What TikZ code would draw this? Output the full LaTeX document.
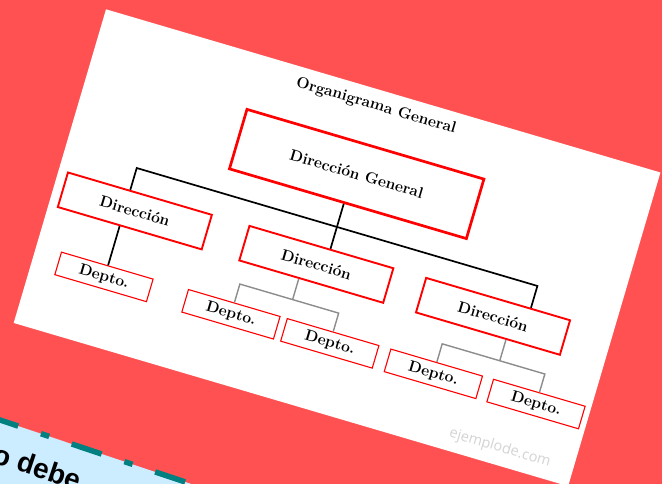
\documentclass[tikz,border=0pt]{standalone}
\usepackage{fontspec}
\usepackage{tikz}
\newfontfamily\markfont{Open Sans}
\newfontfamily\notefont{Liberation Sans}
\definecolor{bgred}{HTML}{FF5151}
\definecolor{noteblue}{HTML}{CCECFF}
\definecolor{noteteal}{HTML}{008080}
\definecolor{markgray}{HTML}{D4D4D4}
\definecolor{subgray}{HTML}{8C8C8C}

\begin{document}
\begin{tikzpicture} [x=1pt,y=-1pt,
  font=\bfseries\fontsize{15.6}{18}\selectfont,
  genbox/.style={draw=red,line width=2.7pt,fill=white,inner sep=0pt,minimum width=247pt,minimum height=62pt},
  dirbox/.style={draw=red,line width=1.9pt,fill=white,inner sep=0pt,minimum width=150pt,minimum height=36pt},
  deptobox/.style={draw=red,line width=1.1pt,fill=white,inner sep=0pt,minimum width=95.5pt,minimum height=23.5pt},
  bus/.style={line width=1.7pt,black},
  sub/.style={line width=1.4pt,subgray}]
\useasboundingbox (0,0) rectangle (662,484);
\clip (0,0) rectangle (662,484);
\fill [bgred](0,0) rectangle (662,484);

\begin{scope}[transform canvas={shift={(106,9.3)},rotate=-16.4}]
\fill [white](0,0) rectangle (578,327);
\node (title) at (286.5,16.5) {Organigrama General};
\coordinate (busL) at (74.3,143.6);
\coordinate (busR) at (492,143.6);
\coordinate (stemG) at (283,143.6);
\coordinate (jB) at (261,225.8);
\coordinate (jC) at (477,226);
\node [genbox] (gen) at (287,87.2) {Direcci\'on General};
\node [dirbox] (dirA) at (84.6,185.3) {Direcci\'on};
\node [dirbox] (dirB) at (273.8,185.3) {Direcci\'on};
\node [dirbox] (dirC) at (458,185.3) {Direcci\'on};
\node [deptobox] (deptoA) at (73.6,257.3) {Depto.};
\node [deptobox] (deptoB1) at (206,257.3) {Depto.};
\node [deptobox] (deptoB2) at (309,257.3) {Depto.};
\node [deptobox] (deptoC1) at (417,257.3) {Depto.};
\node [deptobox] (deptoC2) at (524,257.3) {Depto.};
\draw [bus](dirA.north -| busL) -- (busL) -- (busR) -- (dirC.north -| busR);
\draw [bus](gen.south -| stemG) -- (dirB.north -| stemG);
\draw [bus](dirA.south -| busL) -- (deptoA.north -| busL);
\draw [sub](dirB.south -| jB) -- (jB);
\draw [sub](deptoB1.north) |- (jB) -| (deptoB2.north);
\draw [sub](dirC.south -| jC) -- (jC);
\draw [sub](deptoC1.north) |- (jC) -| (deptoC2.north);
\node [markgray,font=\markfont\fontsize{14.5}{17}\selectfont] (mark) at (501.8,309.6) {ejemplode.com};
\end{scope}

\begin{scope}[transform canvas={shift={(0,420)},rotate=-18.5}]
\fill [noteblue](-60,0) rectangle (500,200);
\draw [noteteal,line width=5.5pt,dash pattern=on 31.6pt off 24pt on 8.6pt off 23.8pt](-12.4,0) -- (500,0);
\node [anchor=base west,inner sep=0pt,font=\notefont\bfseries\fontsize{28}{32}\selectfont] (note) at (5.2,42.5) {o debe};
\end{scope}
\end{tikzpicture}
\end{document}
